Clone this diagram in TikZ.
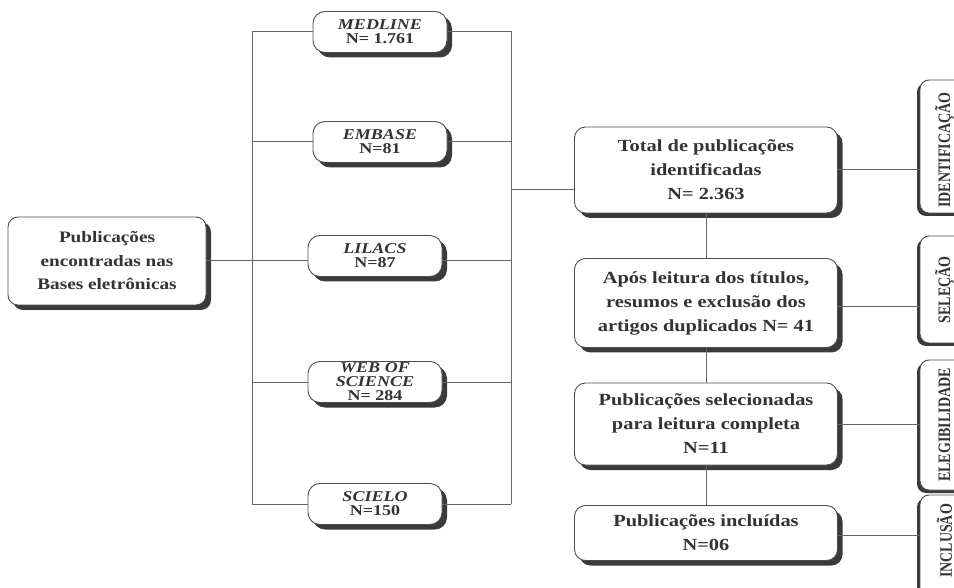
\documentclass[tikz,border=0pt]{standalone}
\usepackage{fontspec}
\setmainfont{Liberation Serif}[FakeStretch=1.2]
\newfontfamily\labfont{Liberation Serif}
\usetikzlibrary{shadows}
\definecolor{txtc}{HTML}{333333}
\definecolor{edgec}{HTML}{4D4D4D}
\definecolor{linkc}{HTML}{666666}
\definecolor{shadc}{HTML}{3A3A3A}
\begin{document}
\begin{tikzpicture}[x=1pt,y=-1pt,
  box/.style={draw=edgec, line width=0.9pt, fill=white, rounded corners=11pt, align=center, text=txtc, inner sep=0pt,
    drop shadow={shadow xshift=5pt, shadow yshift=-5pt, fill=shadc, opacity=1}},
  bigbox/.style={box, minimum width=263pt, font=\bfseries\fontsize{17}{24}\selectfont},
  leftbox/.style={box, minimum width=198pt, minimum height=88pt, rounded corners=10pt, font=\bfseries\fontsize{16}{23.5}\selectfont},
  dbbox/.style={box, minimum width=134pt, minimum height=41pt, rounded corners=12pt, font=\bfseries\fontsize{15}{14}\selectfont,
    drop shadow={shadow xshift=4pt, shadow yshift=-4pt, fill=shadc, opacity=1}},
  labbox/.style={draw=edgec, line width=0.9pt, fill=white, rounded corners=9pt, minimum width=48pt, inner sep=0pt,
    drop shadow={shadow xshift=-3pt, shadow yshift=-3pt, fill=shadc, opacity=1}},
  labtext/.style={rotate=90, text=txtc, inner sep=0pt, font=\labfont\bfseries\fontsize{14}{14}\selectfont},
  linkline/.style={draw=linkc, line width=1pt}]
\useasboundingbox (0,0) rectangle (954,588);
\clip (0,0) rectangle (954,588);

% connectors backbone
\coordinate (lt) at (252,31);
\coordinate (lb) at (252,504);
\coordinate (rt) at (511,31);
\coordinate (rb) at (511,504);
\coordinate (jn) at (511,190);
\draw[linkline] (lt) -- (lb);
\draw[linkline] (rt) -- (rb);

% left box
\node[leftbox] (pub) at (107,261) {Publicações\\encontradas nas\\Bases eletrônicas};

% database boxes
\node[dbbox] (med) at (380,32) {\textit{MEDLINE}\\N= 1.761};
\node[dbbox] (emb) at (380,142) {\textit{EMBASE}\\N=81};
\node[dbbox] (lil) at (375,256) {\textit{LILACS}\\N=87};
\node[dbbox] (wos) at (375,382) {\textit{WEB OF}\\\textit{SCIENCE}\\N= 284};
\node[dbbox] (sci) at (375,504) {\textit{SCIELO}\\N=150};

% right column
\node[bigbox, minimum height=86pt] (tot) at (706,170) {Total de publicações\\identificadas\\N= 2.363};
\node[bigbox, minimum height=89pt] (apo) at (706,303) {Após leitura dos títulos,\\resumos e exclusão dos\\artigos duplicados N= 41};
\node[bigbox, minimum height=82pt] (sel) at (706,424) {Publicações selecionadas\\para leitura completa\\N=11};
\node[bigbox, minimum height=55pt] (inc) at (706,533) {Publicações incluídas\\N=06};

% stage labels
\node[labbox, minimum height=133pt] (idb) at (944,146.5) {};
\node[labbox, minimum height=107pt] (seb) at (944,289.5) {};
\node[labbox, minimum height=130pt] (elb) at (944,425) {};
\node[labbox, minimum height=125pt] (inb) at (944,557.5) {};
\node[labtext] (idt) at (944.5,150) {\scalebox{1}[1.25]{IDENTIFICAÇÃO}};
\node[labtext] (set) at (944.5,290) {\scalebox{1}[1.25]{SELEÇÃO}};
\node[labtext] (elt) at (944.5,425) {\scalebox{1}[1.25]{ELEGIBILIDADE}};
\node[labtext] (int) at (944.5,541) {\scalebox{1}[1.25]{INCLUSÃO}};

% horizontal links
\draw[linkline] (pub.east) -- (lil.west |- pub.east);
\draw[linkline] (lil.east |- pub.east) -- (rt |- pub.east);
\foreach \n in {med,emb,wos,sci}{
  \draw[linkline] (lt |- \n.west) -- (\n.west);
  \draw[linkline] (\n.east) -- (rt |- \n.east);
}
\draw[linkline] (jn) -- (jn -| tot.west);

% vertical chain
\draw[linkline] (tot.south) -- (apo.north);
\draw[linkline] (apo.south) -- (sel.north);
\draw[linkline] (sel.south) -- (inc.north);

% stage links
\draw[linkline] (tot.east) -- (tot.east -| idb.west);
\draw[linkline] ([yshift=-4pt]apo.east) -- ([yshift=-4pt]apo.east -| seb.west);
\draw[linkline] (sel.east) -- (sel.east -| elb.west);
\draw[linkline] ([yshift=-2pt]inc.east) -- ([yshift=-2pt]inc.east -| inb.west);
\end{tikzpicture}
\end{document}
